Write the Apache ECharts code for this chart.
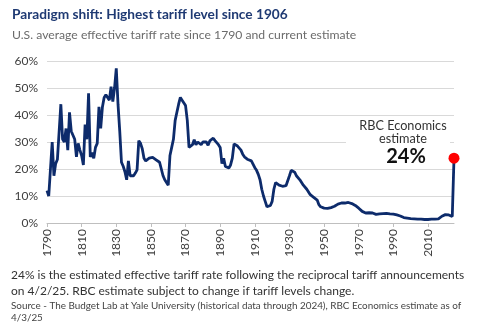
<!DOCTYPE html>
<html><head><meta charset="utf-8">
<script src="https://cdn.jsdelivr.net/npm/echarts@6/dist/echarts.min.js"></script>
<style>html,body{margin:0;padding:0;background:#fff}#c{width:487px;height:331px}</style>
</head><body><div id="c"></div>
<script>
const years = [];
for (let y = 1790; y <= 2025; y++) years.push(String(y));

const rate1790s = [12, 10, 20, 30, 17.5, 22, 23.5, 24, 44, 31];
const rate1800s = [30, 35, 27, 41, 34, 33.5, 31, 24.5, 29.5, 27];
const rate1810s = [25, 21.5, 36.5, 31, 48, 24.5, 26, 24, 28, 29.5];
const rate1820s = [43, 35, 43, 46.5, 47.5, 47.5, 45.5, 50.5, 45, 50];
const rate1830s = [57.3, 44, 34, 22.5, 21, 19, 16, 23, 17.5, 17.2];
const rate1840s = [17.5, 18.5, 19.7, 30.5, 29.5, 27.5, 24, 23, 23, 24];
const rate1850s = [24.3, 24.3, 24, 23.4, 23.2, 22.5, 20, 17.5, 16, 15.4];
const rate1860s = [14, 25, 28, 31, 38, 41, 44, 46.5, 45.5, 45];
const rate1870s = [43.5, 38, 28, 28, 29, 30.8, 29, 30, 29.5, 29];
const rate1880s = [30, 29.5, 30, 28.8, 30.4, 30.5, 31.4, 30.5, 30, 29];
const rate1890s = [28, 22, 24, 20.9, 20.4, 20.4, 21.5, 24, 29.3, 28.7];
const rate1900s = [28.5, 28, 27, 25.5, 24.5, 23.8, 23.5, 23.5, 23, 22.5];
const rate1910s = [20.5, 19.5, 18, 16, 12.5, 10, 8, 6, 6.2, 6.5];
const rate1920s = [8, 12.5, 15, 15.2, 14, 13.5, 13.6, 13.6, 13.8, 14.5];
const rate1930s = [17.5, 19.5, 19.8, 18.8, 17.5, 17, 16, 15, 14, 13.5];
const rate1940s = [12.5, 12, 10.5, 10, 9.5, 9.3, 8.5, 6.8, 6, 5.8];
const rate1950s = [5.5, 5.5, 5.4, 5.5, 5.7, 5.9, 6.2, 6.5, 7, 7.2];
const rate1960s = [7.4, 7.4, 7.4, 7.4, 7.6, 7.4, 7.2, 7, 6.5, 6];
const rate1970s = [5.5, 5, 4.3, 3.8, 3.7, 3.7, 3.8, 3.8, 3.7, 3.5];
const rate1980s = [3.2, 3.4, 3.4, 3.5, 3.5, 3.6, 3.6, 3.5, 3.4, 3.3];
const rate1990s = [3.3, 3.2, 3, 2.8, 2.6, 2.3, 2, 1.9, 1.8, 1.7];
const rate2000s = [1.6, 1.6, 1.5, 1.4, 1.4, 1.4, 1.4, 1.3, 1.3, 1.3];
const rate2010s = [1.3, 1.4, 1.4, 1.4, 1.4, 1.4, 1.5, 1.6, 2.5, 3];
const rate2020s = [3.1, 3, 3, 2.6, 2.4, 24];

const rates = [].concat(rate1790s, rate1800s, rate1810s, rate1820s, rate1830s,
  rate1840s, rate1850s, rate1860s, rate1870s, rate1880s, rate1890s, rate1900s,
  rate1910s, rate1920s, rate1930s, rate1940s, rate1950s, rate1960s, rate1970s,
  rate1980s, rate1990s, rate2000s, rate2010s, rate2020s);

const yTicks = [0, 10, 20, 30, 40, 50, 60];
const estimateLabel = '24%';

const FONT = 'Lato';
const chart = echarts.init(document.getElementById('c'), null, {renderer: 'canvas'});
chart.setOption({
  animation: false,
  backgroundColor: '#fff',
  textStyle: {fontFamily: FONT},
  grid: {left: 47, right: 33, top: 61, bottom: 108, containLabel: false},
  xAxis: {
    type: 'category',
    data: years,
    boundaryGap: false,
    axisLine: {lineStyle: {color: '#bfbfbf', width: 1}},
    axisTick: {interval: 19, length: 4, lineStyle: {color: '#bfbfbf'}},
    axisLabel: {interval: 19, rotate: 90, fontSize: 12, color: '#404040', fontFamily: FONT, margin: 6},
    splitLine: {show: false}
  },
  yAxis: {
    type: 'value',
    min: yTicks[0], max: yTicks[yTicks.length - 1], interval: 10,
    axisLine: {show: false},
    axisTick: {show: false},
    axisLabel: {formatter: '{value}%', fontSize: 12, color: '#404040', fontFamily: FONT, margin: 9},
    splitLine: {lineStyle: {color: '#d9d9d9', width: 1}}
  },
  series: [{
    type: 'line',
    data: rates,
    showSymbol: false,
    symbol: 'none',
    lineStyle: {color: '#0d2b6b', width: 2.8},
    z: 3,
    markPoint: {
      symbol: 'circle',
      symbolSize: 11,
      itemStyle: {color: '#ff0000'},
      label: {show: false},
      data: [{coord: [years[years.length - 1], rates[rates.length - 1]]}]
    }
  }],
  graphic: [
    {type: 'text', x: 12, y: 8, z: 10,
      style: {text: 'Paradigm shift: Highest tariff level since 1906', fontFamily: FONT, fontSize: 13.7, fontWeight: 'bold', fill: '#1f3a73'}},
    {type: 'text', x: 12, y: 29, z: 10,
      style: {text: 'U.S. average effective tariff rate since 1790 and current estimate', fontFamily: FONT, fontSize: 12.2, fill: '#6b6b6b'}},
    {type: 'rect', x: 346, y: 119, z: 1,
      shape: {width: 104, height: 47}, style: {fill: '#fff'}},
    {type: 'text', z: 10, x: 403, y: 119,
      style: {text: 'RBC Economics', fontFamily: FONT, fontSize: 12.7, fill: '#333', align: 'center'}},
    {type: 'text', z: 10, x: 403, y: 132,
      style: {text: 'estimate', fontFamily: FONT, fontSize: 12.7, fill: '#333', align: 'center'}},
    {type: 'text', z: 10, x: 406, y: 147,
      style: {text: estimateLabel, fontFamily: FONT, fontSize: 20, fontWeight: 'bold', fill: '#111', align: 'center'}},
    {type: 'text', x: 11, y: 267, z: 10,
      style: {text: '24% is the estimated effective tariff rate following the reciprocal tariff announcements\non 4/2/25. RBC estimate subject to change if tariff levels change.',
        fontFamily: FONT, fontSize: 12, lineHeight: 16, fill: '#333'}},
    {type: 'text', x: 11, y: 300, z: 10,
      style: {text: 'Source - The Budget Lab at Yale University (historical data through 2024), RBC Economics estimate as of\n4/3/25',
        fontFamily: FONT, fontSize: 9.9, lineHeight: 12, fill: '#444'}}
  ]
});
</script></body></html>
